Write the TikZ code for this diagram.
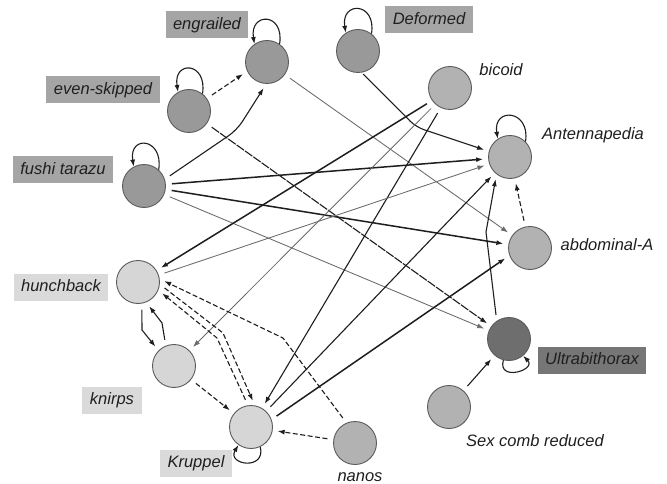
\documentclass[tikz,border=0pt]{standalone}
\usepackage{fontspec}
\setmainfont{Liberation Sans}
\usetikzlibrary{arrows.meta}
\definecolor{nodeDark}{HTML}{999999}
\definecolor{nodeMid}{HTML}{B2B2B2}
\definecolor{nodeLight}{HTML}{D6D6D6}
\definecolor{nodeUbx}{HTML}{6E6E6E}
\definecolor{boxDark}{HTML}{A5A5A5}
\definecolor{boxLight}{HTML}{DADADA}
\definecolor{boxUbx}{HTML}{767676}
\definecolor{rim}{HTML}{5C5C5C}
\definecolor{wire}{HTML}{1E1E1E}
\definecolor{wireThin}{HTML}{6A6A6A}
\begin{document}
\begin{tikzpicture}[x=1pt,y=-1pt,
  gene/.style={circle,draw=rim,line width=0.9pt,minimum size=43pt,inner sep=0pt},
  geneDark/.style={gene,fill=nodeDark},
  geneMid/.style={gene,fill=nodeMid},
  geneLight/.style={gene,fill=nodeLight},
  geneUbx/.style={gene,fill=nodeUbx},
  lbl/.style={font=\fontsize{16.5}{19}\selectfont\itshape,text=black!88,inner sep=0pt,
    text height=11.8pt,text depth=3.4pt},
  tag/.style={lbl,inner xsep=7.5pt,minimum height=27pt},
  tagDark/.style={tag,fill=boxDark},
  tagLight/.style={tag,fill=boxLight},
  tagUbx/.style={tag,fill=boxUbx},
  link/.style={draw=wire,line width=1.1pt,-{Latex[length=7pt,width=5pt]},
    shorten <=6pt,shorten >=5pt},
  heavy/.style={line width=1.5pt},
  thinwire/.style={draw=wireThin,line width=0.85pt},
  dashlink/.style={dash pattern=on 5pt off 2.5pt},
  finedash/.style={dash pattern=on 9pt off 1.2pt},
  selfloop/.style={draw=wire,line width=1.1pt,-{Latex[length=7pt,width=5pt]}}
]
\useasboundingbox (0,0) rectangle (667,484);
\fill[white] (0,0) rectangle (667,484);

% genes
\node[geneDark]  (eng) at (267,62)  {};
\node[geneDark]  (esk) at (189,111) {};
\node[geneDark]  (ftz) at (144,186) {};
\node[geneDark]  (def) at (358,51)  {};
\node[geneMid]   (bcd) at (450,88)  {};
\node[geneMid]   (ant) at (510,157) {};
\node[geneMid]   (abd) at (530,248) {};
\node[geneUbx]   (ubx) at (509,339) {};
\node[geneMid]   (scr) at (449,407) {};
\node[geneMid]   (nan) at (355,443) {};
\node[geneLight] (Kr)  at (251,427) {};
\node[geneLight] (kn)  at (174,366) {};
\node[geneLight] (hb)  at (138,282) {};

% gene names
\node[tagDark]  (engL) at (207,25)  {engrailed};
\node[tagDark]  (eskL) at (103,90)  {even-skipped};
\node[tagDark]  (ftzL) at (63,170)  {fushi tarazu};
\node[tagDark]  (defL) at (429,20)  {Deformed};
\node[lbl]      (bcdL) at (501,71)  {bicoid};
\node[lbl]      (antL) at (593,135) {Antennapedia};
\node[lbl]      (abdL) at (607,246) {abdominal-A};
\node[tagUbx]   (ubxL) at (592,360) {Ultrabithorax};
\node[lbl]      (scrL) at (535,442) {Sex comb reduced};
\node[lbl]      (nanL) at (360,477) {nanos};
\node[tagLight] (KrL)  at (196,463) {Kruppel};
\node[tagLight] (knL)  at (112,400) {knirps};
\node[tagLight] (hbL)  at (61,287)  {hunchback};

% bend points of the routed connectors
\coordinate (kFtzEng) at (237,130);
\coordinate (kDef)    at (416,127);
\coordinate (kHbKn)   at (142,330);
\coordinate (kKnHb)   at (162,323);
\coordinate (kHbKr)   at (223,333);
\coordinate (kKrHb)   at (217,338);
\coordinate (kNanHb)  at (283,338);
\coordinate (kUbxAnt) at (486,232);

% self-regulation
\draw[selfloop] (eng.55)  .. controls +(5,-32) and +(-5,-32) .. (eng.125);
\draw[selfloop] (esk.52)  .. controls +(5,-32) and +(-5,-32) .. (esk.120);
\draw[selfloop] (ftz.48)  .. controls +(5,-32) and +(-5,-32) .. (ftz.118);
\draw[selfloop] (def.52)  .. controls +(5,-32) and +(-5,-32) .. (def.124);
\draw[selfloop] (ant.45)  .. controls +(5,-32) and +(-5,-32) .. (ant.124);
\draw[selfloop] (ubx.-105) .. controls +(-6,22) and +(14,14) .. (ubx.-50);
\draw[selfloop] (Kr.-65)  .. controls +(6,24) and +(-12,20) .. (Kr.-125);

% interactions
\draw[link,dashlink] (esk.35) -- (eng.205);
\draw[link,rounded corners=10pt] (ftz.18) -- (kFtzEng) -- (eng.-92);
\draw[link,thinwire] (eng) -- (abd);
\draw[link,finedash] (esk) -- (ubx);
\draw[link,heavy] (ftz) -- (ant);
\draw[link,heavy] (ftz) -- (abd);
\draw[link,thinwire] (ftz) -- (ubx);
\draw[link,rounded corners=8pt,shorten <=2pt] (def.-80) -- (kDef) -- (ant.165);
\draw[link,heavy] (bcd.215) -- (hb);
\draw[link,thinwire] (bcd.228) -- (kn);
\draw[link] (bcd.245) -- (Kr);
\draw[link,thinwire] (hb) -- (ant);
\draw[link] (hb.-80) -- (kHbKn) -- (kn.135);
\draw[link] (kn.112) -- (kKnHb) -- (hb.-68);
\draw[link,dashlink] (kn) -- (Kr);
\draw[link,dashlink] (hb.-6) -- (kHbKr) -- (Kr.80);
\draw[link,dashlink] (Kr.98) -- (kKrHb) -- (hb.-22);
\draw[link,dashlink] (nan.113) -- (kNanHb) -- (hb.8);
\draw[link,dashlink] (nan) -- (Kr);
\draw[link] (Kr) -- (ant);
\draw[link,heavy] (Kr.20) -- (abd.200);
\draw[link] (ubx.124) -- (kUbxAnt) -- (ant.232);
\draw[link,dashlink] (abd) -- (ant);
\draw[link] (scr) -- (ubx);
\end{tikzpicture}
\end{document}
